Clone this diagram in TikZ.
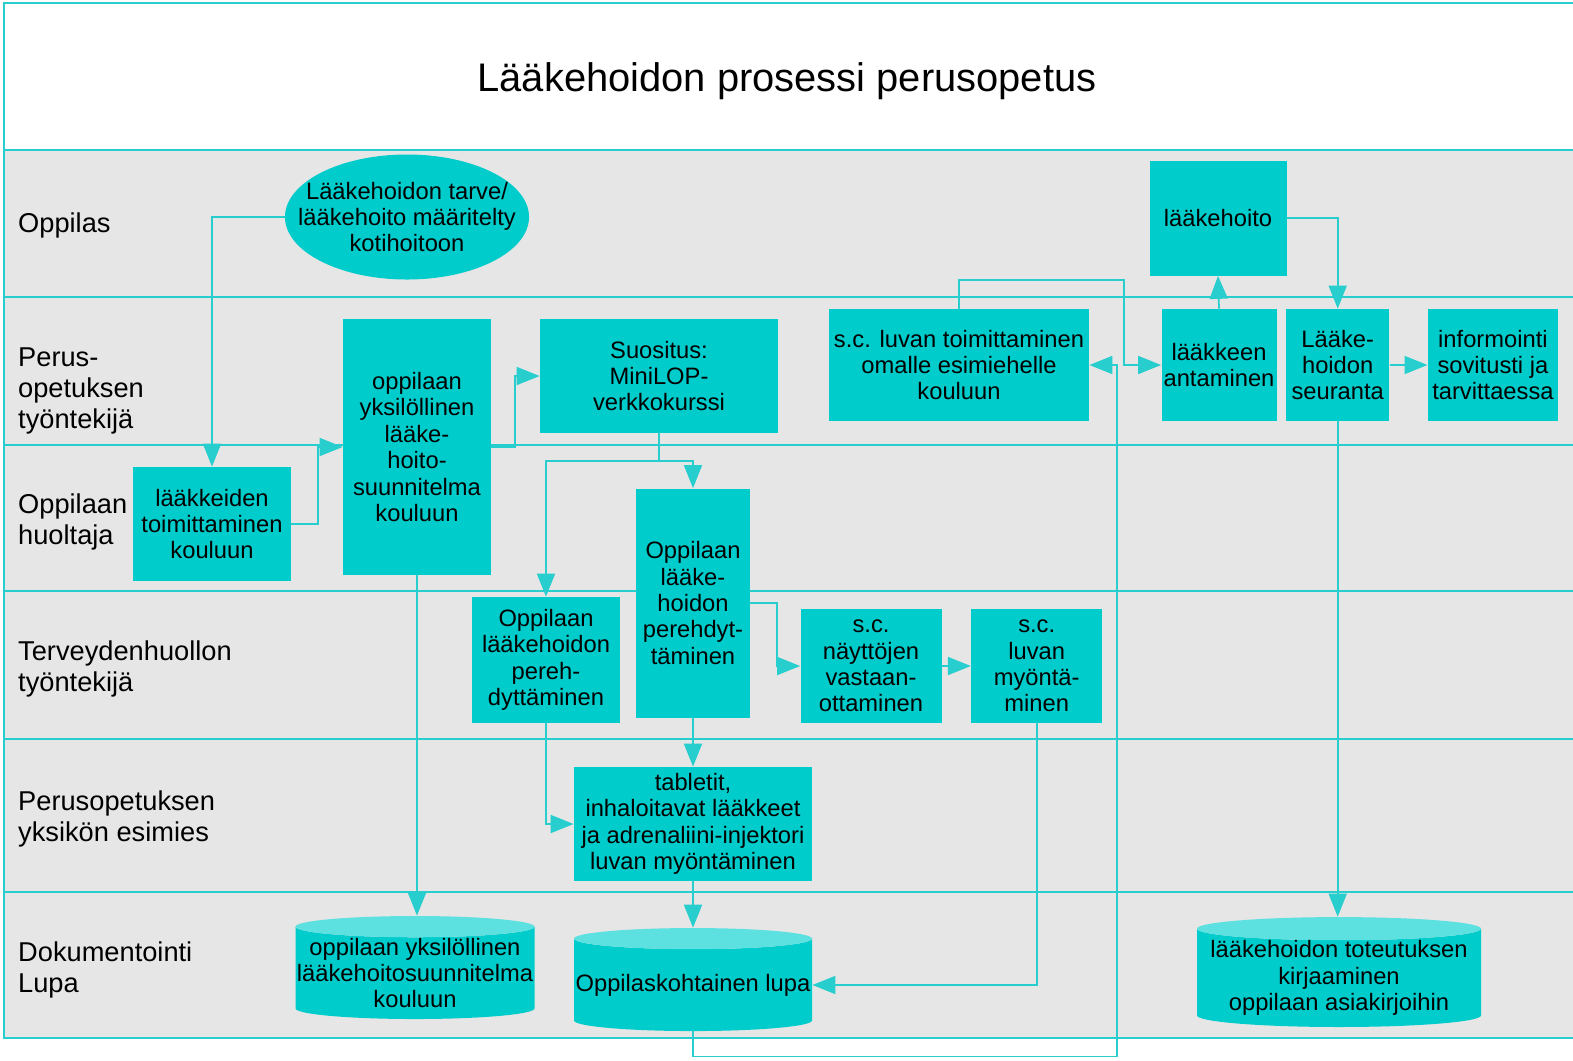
\documentclass[tikz,border=0pt]{standalone}
\usepackage{fontspec}
\setmainfont{Liberation Sans}
\usetikzlibrary{positioning, shapes.geometric, arrows.meta}

\definecolor{boxcyan}{RGB}{0,204,204}
\definecolor{linecyan}{RGB}{40,206,206}
\definecolor{toplight}{RGB}{92,224,224}
\definecolor{lanegray}{RGB}{230,230,230}

\begin{document}
\begin{tikzpicture}[
        x=0.2mm, y=-0.2mm,
        font=\fontsize{13.5}{15}\selectfont,
        box/.style={fill=boxcyan, align=center, inner sep=1pt},
        oval/.style={ellipse, fill=boxcyan, align=center, inner xsep=-4.5mm, inner ysep=0pt},
        doc/.style={cylinder, shape border rotate=90, shape aspect=0.09, cylinder uses custom fill,
                    cylinder body fill=boxcyan, cylinder end fill=toplight, align=center, inner sep=0pt},
        lane/.style={fill=lanegray, draw=linecyan, line width=1pt},
        lanelabel/.style={anchor=west, align=left, font=\fontsize{15.5}{17.6}\selectfont},
        arrow/.style={-{Triangle[length=4.6mm, width=3.6mm]}, linecyan, line width=1pt}
    ]
    \useasboundingbox (0,0) rectangle (1573,1060);

    % Lanes
    \draw[lane, fill=white] (4,3) rectangle (1600,150);
    \node[font=\fontsize{22.7}{26}\selectfont] (title) at (787,81) {Lääkehoidon prosessi perusopetus};
    \foreach \ya/\yb/\yl/\lbl [count=\i] in {150/297/225/{Oppilas},
            297/445/391/{Perus-\\opetuksen\\työntekijä},
            445/591/522/{Oppilaan\\huoltaja},
            591/739/669/{Terveydenhuollon\\työntekijä},
            739/892/819/{Perusopetuksen\\yksikön esimies},
            892/1038/970/{Dokumentointi\\Lupa}} {
        \draw[lane] (4,\ya) rectangle (1600,\yb);
        \node[lanelabel] (lane\i) at (12,\yl) {\lbl};
    }

    % Nodes
    \node[oval, minimum width=4.82cm, minimum height=2.5cm] (tarve) at (407,217) {Lääkehoidon tarve/\\lääkehoito määritelty\\kotihoitoon};
    \node[box, minimum width=2.74cm, minimum height=2.3cm] (hoito) at (1218,218) {lääkehoito};

    \node[box, minimum width=2.96cm, minimum height=5.12cm] (plan) at (417,447) {oppilaan\\yksilöllinen\\lääke-\\hoito-\\suunnitelma\\kouluun};
    \node[box, minimum width=4.76cm, minimum height=2.28cm] (minilop) at (659,376) {Suositus:\\MiniLOP-\\verkkokurssi};
    \node[box, minimum width=5.2cm, minimum height=2.24cm] (toimitus) at (959,365) {s.c. luvan toimittaminen\\omalle esimiehelle\\kouluun};
    \node[box, minimum width=2.3cm, minimum height=2.24cm] (antaminen) at (1219,365) {lääkkeen\\antaminen};
    \node[box, minimum width=2.06cm, minimum height=2.24cm, right=0.18cm of antaminen] (seuranta) {Lääke-\\hoidon\\seuranta};
    \node[box, minimum width=2.6cm, minimum height=2.24cm, right=0.76cm of seuranta] (info) {informointi\\sovitusti ja\\tarvittaessa};

    \node[box, minimum width=3.16cm, minimum height=2.28cm] (laakkeet) at (212,524) {lääkkeiden\\toimittaminen\\kouluun};
    \node[box, minimum width=2.28cm, minimum height=4.58cm] (perehtall) at (693,603) {Oppilaan\\lääke-\\hoidon\\perehdyt-\\täminen};
    \node[box, minimum width=2.96cm, minimum height=2.52cm] (perehsmall) at (546,660) {Oppilaan\\lääkehoidon\\pereh-\\dyttäminen};
    \node[box, minimum width=2.82cm, minimum height=2.28cm] (naytot) at (871,666) {s.c.\\näyttöjen\\vastaan-\\ottaminen};
    \node[box, minimum width=2.62cm, minimum height=2.28cm, right=0.58cm of naytot] (myonto) {s.c.\\luvan\\myöntä-\\minen};

    \node[box, minimum width=4.76cm, minimum height=2.28cm] (tabletit) at (693,824) {tabletit,\\inhaloitavat lääkkeet\\ja adrenaliini-injektori\\luvan myöntäminen};

    \node[doc, minimum width=4.78cm, minimum height=2.06cm] (suunn) at (415,973) {oppilaan yksilöllinen\\lääkehoitosuunnitelma\\kouluun};
    \node[doc, minimum width=4.76cm, minimum height=2.06cm] (lupa) at (693,985) {Oppilaskohtainen lupa};
    \node[doc, minimum width=5.68cm, minimum height=2.04cm] (kirjaus) at (1339,978) {lääkehoidon toteutuksen\\kirjaaminen\\oppilaan asiakirjoihin};

    % Arrows
    \draw[arrow] (tarve.west) -| (laakkeet.north);
    \draw[arrow] (laakkeet.east) -- ++(27,0) |- (plan.west);
    \draw[arrow] (plan.east) -- ++(24,0) |- (minilop.west);
    \draw[arrow] (plan.south) -- (plan.south |- suunn.north);

    % Branch from the course
    \draw[linecyan, line width=1pt] (minilop.south) -- ++(0,28) coordinate (branch);
    \draw[arrow] (branch) -| (perehsmall.north);
    \draw[arrow] (branch) -| (perehtall.north);

    \draw[arrow] (perehsmall.south) |- (tabletit.west);
    \draw[arrow] (perehtall.south) -- (tabletit.north);
    \draw[arrow] (perehtall.east) -- ++(27,0) |- (naytot.west);
    \draw[arrow] (naytot) -- (myonto);
    \draw[arrow] (myonto.south) |- (lupa.east);
    \draw[arrow] (tabletit.south) -- (lupa.north);

    % Back up to the school
    \coordinate (ret) at ([xshift=5.6mm]toimitus.east);
    \draw[arrow] (lupa.south) -- ++(0,25) -| (ret) -- (toimitus.east);
    \draw[arrow] (toimitus.north) -- ++(0,-29) -| ([xshift=-7.4mm]antaminen.west) -- (antaminen.west);

    \draw[arrow] (antaminen.north) -- (hoito.south);
    \draw[arrow] (hoito.east) -| (seuranta.north);
    \draw[arrow] (seuranta) -- (info);
    \draw[arrow] (seuranta.south) -- (seuranta.south |- kirjaus.north);

\end{tikzpicture}
\end{document}
